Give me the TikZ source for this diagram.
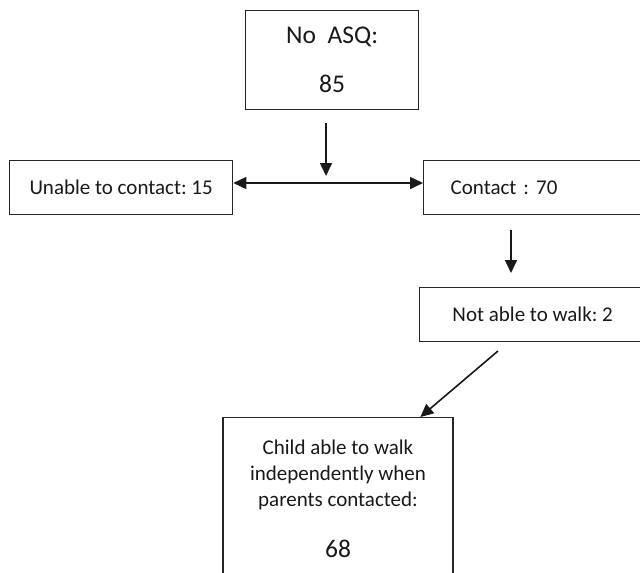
\documentclass[tikz,border=0pt]{standalone}
\usepackage{fontspec}
\setmainfont{Carlito}
\usetikzlibrary{arrows.meta}
\frenchspacing
\begin{document}
\begin{tikzpicture}[x=1pt,y=1pt,
  box/.style={draw=black!85, line width=1.3pt, inner sep=0pt, text=black!90},
  arr/.style={line width=1.6pt, draw=black!90, -{Triangle[length=13pt,width=12pt]}},
  small/.style={font=\fontsize{21}{26}\selectfont},
  big/.style={font=\fontsize{25.5}{49}\selectfont}]
\useasboundingbox (0,0) rectangle (640,-573);
\clip (0,0) rectangle (640,-573);
% boxes
\node[box, big, align=center, minimum width=173, minimum height=99, anchor=north west] (asq) at (245,-10) {No\ \ ASQ:\\85};
\node[box, small, minimum width=223, minimum height=54, anchor=north west] (unable) at (9,-160) {Unable to contact: 15};
\node[box, small, text width=210, align=left, inner xsep=27, minimum height=54, anchor=north west] (contact) at (423,-160) {Contact : 70};
\node[box, small, minimum width=226, minimum height=54, anchor=north west] (notable) at (419,-287) {Not able to walk: 2};
\node[box, small, align=center, minimum width=230, inner ysep=22, anchor=north] (child) at (338,-417)
  {Child able to walk\\independently when\\parents contacted:\\[25pt]{\fontsize{25.5}{30}\selectfont 68}\\[20pt]};
% connector points
\coordinate (d1s) at (326,-123);
\coordinate (d1e) at (326,-176);
\coordinate (mid) at (314,-183);
\coordinate (d2s) at (511,-230);
\coordinate (d2e) at (511,-273);
\coordinate (d3s) at (498,-351);
% connectors
\draw[arr] (d1s) -- (d1e);
\draw[arr] (mid) -- (unable.east |- mid);
\draw[arr] (mid) -- (contact.west |- mid);
\draw[arr] (d2s) -- (d2e);
\draw[arr] (d3s) -- ([xshift=198pt]child.north west);
\end{tikzpicture}
\end{document}
